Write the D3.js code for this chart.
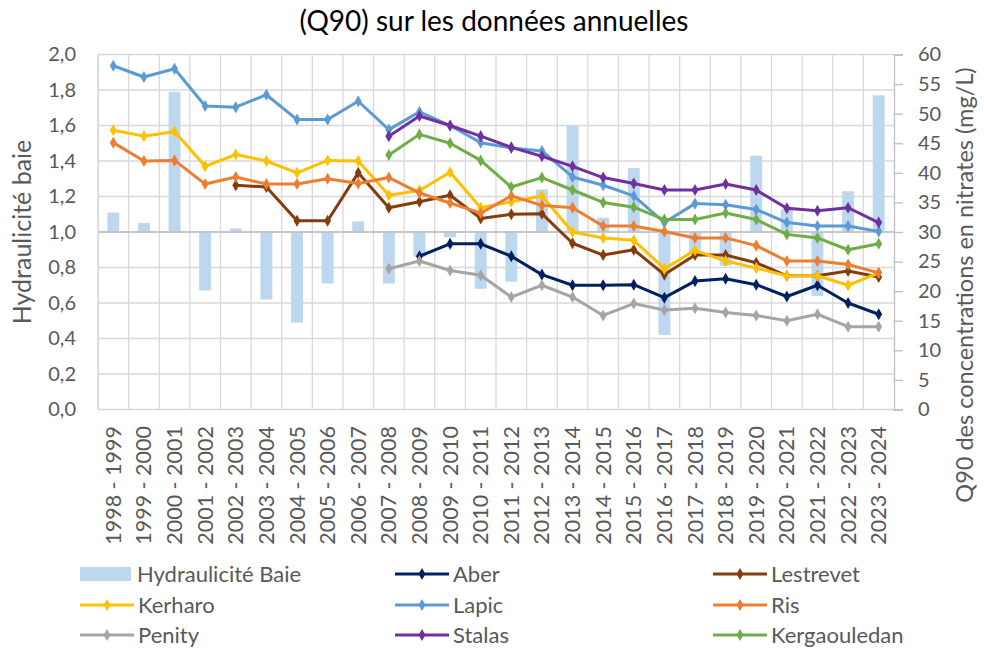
<!DOCTYPE html>
<html>
<head>
<meta charset="utf-8">
<script src="https://cdn.jsdelivr.net/npm/d3@7"></script>
<style>
  body { margin: 0; background: #fff; }
  #chart text { font-family: Lato, "Liberation Sans", sans-serif; }
</style>
</head>
<body>
<div id="chart"></div>
<script>
const years = ['1998 - 1999', '1999 - 2000', '2000 - 2001', '2001 - 2002', '2002 - 2003',
  '2003 - 2004', '2004 - 2005', '2005 - 2006', '2006 - 2007', '2007 - 2008',
  '2008 - 2009', '2009 - 2010', '2010 - 2011', '2011 - 2012', '2012 - 2013',
  '2013 - 2014', '2014 - 2015', '2015 - 2016', '2016 - 2017', '2017 - 2018',
  '2018 - 2019', '2019 - 2020', '2020 - 2021', '2021 - 2022', '2022 - 2023', '2023 - 2024']

// hydraulicite (left axis, bars start at 1.0)
const hydraulicite = [1.11, 1.05, 1.79, 0.67, 1.02, 0.62, 0.49, 0.71, 1.06, 0.71,
  0.86, 0.97, 0.68, 0.72, 1.24, 1.60, 1.08, 1.36, 0.42, 0.88,
  0.81, 1.43, 1.13, 0.64, 1.23, 1.77]

// Q90 nitrates mg/L (right axis)
const aber = [null, null, null, null, null, null, null, null, null, null,
  25.9, 28.0, 28.0, 25.9, 22.8, 21.0, 21.0, 21.1, 18.9, 21.7, 22.1, 21.1, 19.1, 21.0, 18.0, 16.1]
const lestrevet = [null, null, null, null, 37.9, 37.6, 31.9, 31.9, 40.0, 34.1,
  35.1, 36.2, 32.3, 33.0, 33.1, 28.1, 26.1, 27.0, 22.8, 26.1, 26.1, 24.8, 22.6, 22.6, 23.4, 22.4]
const kerharo = [47.2, 46.2, 47.0, 41.1, 43.1, 42.0, 40.0, 42.1, 42.0, 36.2,
  37.0, 40.1, 34.1, 35.1, 36.1, 30.0, 29.0, 28.6, 23.8, 26.9, 25.1, 23.9, 22.6, 22.6, 21.0, 23.1]
const lapic = [58.1, 56.2, 57.6, 51.3, 51.1, 53.2, 49.0, 49.0, 52.1, 47.3,
  50.3, 48.0, 45.1, 44.2, 43.7, 39.3, 37.9, 36.1, 31.6, 34.8, 34.6, 33.8, 31.6, 31.0, 31.0, 30.1]
const ris = [45.1, 42.0, 42.1, 38.1, 39.3, 38.1, 38.1, 39.0, 38.2, 39.2,
  36.6, 34.9, 33.2, 36.1, 34.5, 34.1, 31.0, 31.0, 30.1, 29.0, 29.0, 27.7, 25.1, 25.1, 24.5, 23.1]
const penity = [null, null, null, null, null, null, null, null, null, 23.8,
  25.1, 23.5, 22.7, 19.0, 21.0, 19.0, 15.9, 17.9, 16.8, 17.1, 16.4, 15.9, 15.0, 16.1, 14.0, 14.0]
const stalas = [null, null, null, null, null, null, null, null, null, 46.2,
  49.6, 48.0, 46.2, 44.3, 42.8, 41.1, 39.2, 38.2, 37.1, 37.1, 38.1, 37.1, 34.0, 33.6, 34.1, 31.6]
const kergaouledan = [null, null, null, null, null, null, null, null, null, 43.0,
  46.5, 45.0, 42.1, 37.6, 39.2, 37.1, 35.0, 34.2, 32.1, 32.1, 33.2, 32.1, 29.6, 29.0, 27.0, 28.0]

const leftTicks = [0, 0.2, 0.4, 0.6, 0.8, 1.0, 1.2, 1.4, 1.6, 1.8, 2.0]
const rightTicks = [0, 5, 10, 15, 20, 25, 30, 35, 40, 45, 50, 55, 60]

const series = [
  { name: 'Aber', values: aber, color: '#002060' },
  { name: 'Lestrevet', values: lestrevet, color: '#843C0C' },
  { name: 'Kerharo', values: kerharo, color: '#FFC000' },
  { name: 'Lapic', values: lapic, color: '#5B9BD5' },
  { name: 'Ris', values: ris, color: '#ED7D31' },
  { name: 'Penity', values: penity, color: '#A5A5A5' },
  { name: 'Stalas', values: stalas, color: '#7030A0' },
  { name: 'Kergaouledan', values: kergaouledan, color: '#70AD47' }
]

const width = 984,
      height = 649,
      plotLeft = 98,
      plotRight = 894,
      plotTop = 54.5,
      plotBottom = 409.5,
      textColor = '#595959'

const xScale = d3.scaleBand().domain(years).range([plotLeft, plotRight]),
      yLeft = d3.scaleLinear().domain([0, 2]).range([plotBottom, plotTop]),
      yRight = d3.scaleLinear().domain([0, 60]).range([plotBottom, plotTop])

const svg = d3.select('#chart')
              .append('svg')
              .attr('width', width)
              .attr('height', height)

// grid
svg.append('g')
   .selectAll('line')
   .data(leftTicks)
   .enter()
   .append('line')
   .attr('x1', plotLeft).attr('x2', plotRight)
   .attr('y1', function(d) { return yLeft(d) })
   .attr('y2', function(d) { return yLeft(d) })
   .attr('stroke', '#D9D9D9')
   .attr('stroke-width', 1.3)

svg.append('g')
   .selectAll('line')
   .data(years)
   .enter()
   .append('line')
   .attr('x1', function(d) { return xScale(d) })
   .attr('x2', function(d) { return xScale(d) })
   .attr('y1', plotTop).attr('y2', plotBottom)
   .attr('stroke', '#D9D9D9')
   .attr('stroke-width', 1.3)

// bars from 1.0
const bw = xScale.bandwidth() * 0.39
svg.append('g')
   .selectAll('rect')
   .data(hydraulicite)
   .enter()
   .append('rect')
   .attr('x', function(d, i) { return xScale(years[i]) + (xScale.bandwidth() - bw) / 2 })
   .attr('width', bw)
   .attr('y', function(d) { return yLeft(Math.max(d, 1)) })
   .attr('height', function(d) { return Math.abs(yLeft(d) - yLeft(1)) })
   .attr('fill', '#BDD7EE')

// category axis at 1.0
svg.append('line')
   .attr('x1', plotLeft).attr('x2', plotRight)
   .attr('y1', yLeft(1)).attr('y2', yLeft(1))
   .attr('stroke', '#BFBFBF')
   .attr('stroke-width', 1.3)

// right axis
const rightAxis = svg.append('g')
                     .attr('transform', 'translate(' + plotRight + ',0)')
                     .call(d3.axisRight(yRight).tickValues(rightTicks).tickSize(9).tickPadding(15))
rightAxis.select('.domain').attr('stroke', '#BFBFBF').attr('stroke-width', 1.3)
rightAxis.selectAll('line').attr('stroke', '#BFBFBF').attr('stroke-width', 1.3)
rightAxis.selectAll('text').attr('fill', textColor).style('font-size', '20px')

// left axis
const leftAxis = svg.append('g')
                    .attr('transform', 'translate(' + plotLeft + ',0)')
                    .call(d3.axisLeft(yLeft).tickValues(leftTicks).tickSize(0).tickPadding(22)
                            .tickFormat(function(d) { return d3.format('.1f')(d).replace('.', ',') }))
leftAxis.select('.domain').attr('stroke', '#D9D9D9').attr('stroke-width', 1.3)
leftAxis.selectAll('text').attr('fill', textColor).style('font-size', '20px')

// x labels
svg.append('g')
   .selectAll('text')
   .data(years)
   .enter()
   .append('text')
   .attr('transform', function(d) {
     return 'translate(' + (xScale(d) + xScale.bandwidth() / 2) + ',426) rotate(-90)'
   })
   .attr('text-anchor', 'end')
   .attr('dy', '0.35em')
   .attr('fill', textColor)
   .style('font-size', '21.5px')
   .text(function(d) { return d })

// lines
const diamond = d3.symbol().type(d3.symbolDiamond).size(42)

series.forEach(function(s) {
  const pts = s.values.map(function(v, i) { return { v: v, i: i } })
  const line = d3.line()
                 .defined(function(d) { return d.v !== null })
                 .x(function(d) { return xScale(years[d.i]) + xScale.bandwidth() / 2 })
                 .y(function(d) { return yRight(d.v) })
  svg.append('path')
     .datum(pts)
     .attr('d', line)
     .attr('fill', 'none')
     .attr('stroke', s.color)
     .attr('stroke-width', 3)
     .attr('stroke-linejoin', 'round')
  svg.append('g')
     .selectAll('path')
     .data(pts.filter(function(d) { return d.v !== null }))
     .enter()
     .append('path')
     .attr('d', diamond)
     .attr('transform', function(d) {
       return 'translate(' + (xScale(years[d.i]) + xScale.bandwidth() / 2) + ',' + yRight(d.v) + ')'
     })
     .attr('fill', s.color)
})

// titles
svg.append('text')
   .attr('x', 494).attr('y', 31)
   .attr('text-anchor', 'middle')
   .attr('fill', '#000')
   .style('font-size', '28px')
   .text('(Q90) sur les données annuelles')

svg.append('text')
   .attr('transform', 'translate(22,232) rotate(-90)')
   .attr('text-anchor', 'middle')
   .attr('dy', '0.35em')
   .attr('fill', textColor)
   .style('font-size', '25px')
   .text('Hydraulicité baie')

svg.append('text')
   .attr('transform', 'translate(965,285) rotate(-90)')
   .attr('text-anchor', 'middle')
   .attr('dy', '0.35em')
   .attr('fill', textColor)
   .style('font-size', '23.5px')
   .text('Q90 des concentrations en nitrates (mg/L)')

// legend
const legendItems = [{ name: 'Hydraulicité Baie', bar: true }].concat(series)
const colX = [80, 395, 713],
      rowY = [574, 605, 635]

const legend = svg.append('g')
                  .selectAll('g')
                  .data(legendItems)
                  .enter()
                  .append('g')
                  .attr('transform', function(d, i) {
                    return 'translate(' + colX[i % 3] + ',' + rowY[Math.floor(i / 3)] + ')'
                  })

legend.each(function(d) {
  const g = d3.select(this)
  if (d.bar) {
    g.append('rect').attr('x', 0).attr('y', -7).attr('width', 51).attr('height', 14).attr('fill', '#BDD7EE')
  } else {
    g.append('line').attr('x1', 0).attr('x2', 54).attr('y1', 0).attr('y2', 0)
     .attr('stroke', d.color).attr('stroke-width', 3)
    g.append('path').attr('d', diamond).attr('transform', 'translate(27,0)').attr('fill', d.color)
  }
  g.append('text')
   .attr('x', d.bar ? 57 : 58)
   .attr('dy', '0.35em')
   .attr('fill', textColor)
   .style('font-size', '22px')
   .text(d.name)
})
</script>
</body>
</html>
